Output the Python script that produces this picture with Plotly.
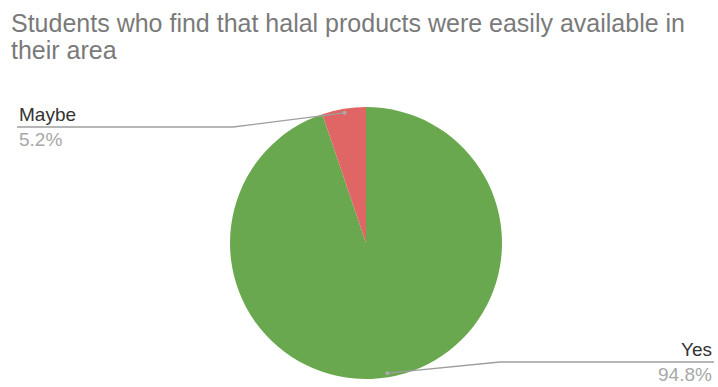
import math
import plotly.graph_objects as go

# Survey responses
labels = ["Yes", "Maybe"]
shares = [94.8, 5.2]
colors = ["#6aa84f", "#e06666"]

title_lines = [
    "Students who find that halal products were easily available in",
    "their area",
]

W, H = 718, 387
CX, CY, R = 366, 243, 136  # pie centre and radius in pixels (from top-left)
FONT = "Liberation Sans, Arial"

fig = go.Figure(go.Pie(
    labels=labels,
    values=shares,
    sort=False,
    direction="clockwise",
    rotation=0,
    marker=dict(colors=colors, line=dict(width=0)),
    textinfo="none",
    hoverinfo="label+percent",
    showlegend=False,
    domain=dict(x=[(CX - R) / W, (CX + R) / W],
                y=[(H - CY - R) / H, (H - CY + R) / H]),
))


def px(x, y):
    """pixel coords (top-left origin) -> paper coords"""
    return x / W, 1 - y / H


# anchor point on each slice, derived from its share
total = sum(shares)
anchors = []
acc = 0.0
for v in shares:
    mid = (acc + v / 2) / total * 2 * math.pi
    acc += v
    r = R * 0.97
    anchors.append((CX + r * math.sin(mid), CY - r * math.cos(mid)))

line_col = "#9e9e9e"
shapes = []
annotations = []

# label layout: elbow point, end of the horizontal rule, text side
layout_spec = {
    "Maybe": dict(elbow=(233, 127), end=(17, 127), side="left"),
    "Yes": dict(elbow=(500, 362), end=(714, 362), side="right"),
}

for name, v, (ax, ay) in zip(labels, shares, anchors):
    spec = layout_spec[name]
    ex, ey = spec["elbow"]
    tx, ty = spec["end"]
    x0, y0 = px(ax, ay)
    x1, y1 = px(ex, ey)
    x2, y2 = px(tx, ty)
    shapes.append(dict(type="line", xref="paper", yref="paper",
                       x0=x0, y0=y0, x1=x1, y1=y1,
                       line=dict(color=line_col, width=1.3)))
    shapes.append(dict(type="line", xref="paper", yref="paper",
                       x0=x1, y0=y1, x1=x2, y1=y2,
                       line=dict(color=line_col, width=1.5)))
    shapes.append(dict(type="circle", xref="paper", yref="paper",
                       x0=x0 - 2 / W, x1=x0 + 2 / W, y0=y0 - 2 / H, y1=y0 + 2 / H,
                       fillcolor="#aaaaaa", line=dict(width=0)))
    xa = "left" if spec["side"] == "left" else "right"
    annotations.append(dict(text=name, xref="paper", yref="paper",
                            x=x2, y=y2, xanchor=xa, yanchor="bottom",
                            showarrow=False, yshift=0, xshift=0,
                            font=dict(family=FONT, size=19, color="#333333")))
    annotations.append(dict(text=f"{v}%", xref="paper", yref="paper",
                            x=x2, y=y2, xanchor=xa, yanchor="top",
                            showarrow=False, yshift=0,
                            font=dict(family=FONT, size=19, color="#a8a8a8")))

# title, one annotation per line for tighter leading
for i, line in enumerate(title_lines):
    annotations.append(dict(
        text=line, xref="paper", yref="paper",
        x=9 / W, y=1 - (7 + 27 * i) / H,
        xanchor="left", yanchor="top", align="left", showarrow=False,
        font=dict(family=FONT, size=25, color="#7a7a7a"),
    ))

fig.update_layout(
    width=W, height=H,
    margin=dict(l=0, r=0, t=0, b=0),
    paper_bgcolor="white",
    plot_bgcolor="white",
    shapes=shapes,
    annotations=annotations,
)

fig.write_html("out.html")
